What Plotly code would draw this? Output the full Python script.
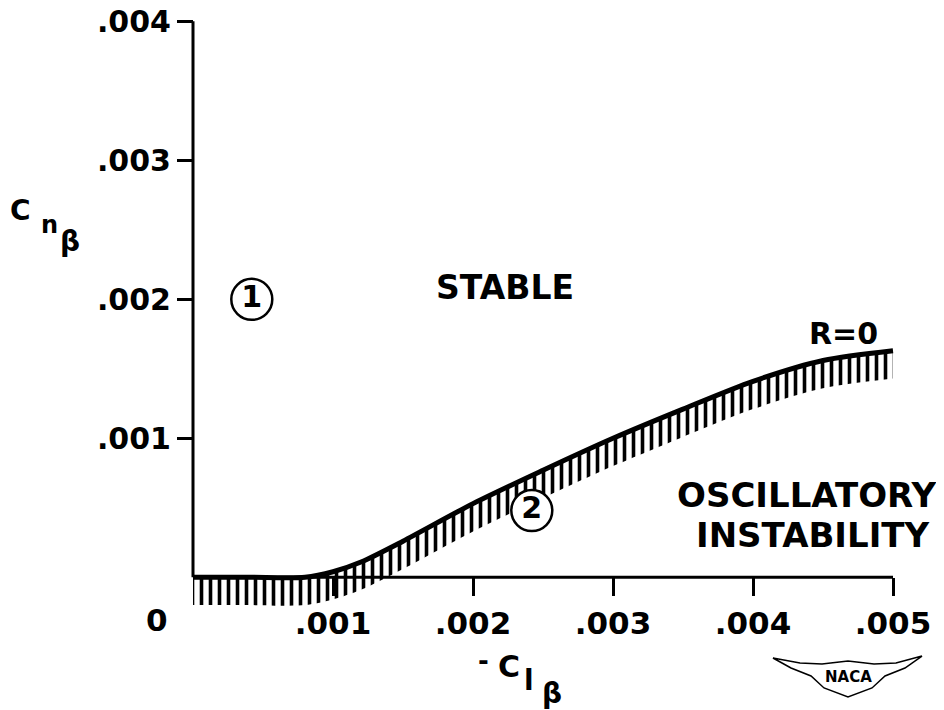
import plotly.graph_objects as go

# ---- data ----
curve_x = [0.0, 0.0004, 0.0008, 0.0010, 0.0012, 0.0015, 0.0020, 0.0025,
           0.0030, 0.0035, 0.0040, 0.0045, 0.0050]
curve_y = [0.0, 0.0, 0.0, 0.00004, 0.00011, 0.00026, 0.00053, 0.00077,
           0.00100, 0.00121, 0.00141, 0.00156, 0.00163]
region_labels = ["1", "2"]
region_x = [0.00042, 0.00242]
region_y = [0.00200, 0.00048]
x_tickvals = [0.001, 0.002, 0.003, 0.004, 0.005]
x_ticktext = [".001", ".002", ".003", ".004", ".005"]
y_tickvals = [0.001, 0.002, 0.003, 0.004]
y_ticktext = [".001", ".002", ".003", ".004"]

# ---- style / layout ----
OFF = 8                      # page offset of the figure inside the browser window
W, H = 936, 702
ML, MR, MT, MB = 171, 23, 6, 91
PW, PH = W - ML - MR, H - MT - MB
XR = [-0.0001, -0.0001 + PW / 140.0 * 0.001]
YR = [-0.0003, -0.0003 + PH / 139.0 * 0.001]
HATCH = 0.0002
FONT = "DejaVu Sans"


def px(x):
    return (x - OFF - ML) / PW


def py(y):
    return (H - MB - (y - OFF)) / PH


lower = [v - HATCH for v in curve_y]

fig = go.Figure()
fig.add_trace(go.Scatter(x=curve_x, y=lower, mode="lines",
                         line=dict(width=0, shape="spline", smoothing=0.8),
                         hoverinfo="skip", showlegend=False))
fig.add_trace(go.Scatter(x=curve_x, y=curve_y, mode="lines",
                         line=dict(color="black", width=5, shape="spline", smoothing=0.8),
                         fill="tonexty", fillcolor="rgba(0,0,0,0)",
                         fillpattern=dict(shape="|", fgcolor="black", fgopacity=1,
                                          bgcolor="rgba(0,0,0,0)",
                                          size=9, solidity=0.4),
                         showlegend=False))
fig.add_trace(go.Scatter(x=region_x, y=region_y, mode="markers+text",
                         text=region_labels, textposition="middle center",
                         textfont=dict(family=FONT, size=30, color="black", weight="bold"),
                         marker=dict(size=41, color="white",
                                     line=dict(color="black", width=2.5)),
                         showlegend=False))

# axis lines from origin to the last tick
fig.add_shape(type="line", x0=0, y0=0, x1=x_tickvals[-1], y1=0,
              line=dict(color="black", width=3), layer="above")
fig.add_shape(type="line", x0=0, y0=0, x1=0, y1=y_tickvals[-1],
              line=dict(color="black", width=3), layer="above")

xtickfont = dict(family=FONT, size=31, color="black", weight="bold")
ytickfont = dict(family=FONT, size=30, color="black", weight="bold")
fig.update_layout(
    width=W, height=H,
    margin=dict(l=ML, r=MR, t=MT, b=MB),
    paper_bgcolor="white", plot_bgcolor="white",
    font=dict(family=FONT, color="black"),
    xaxis=dict(range=XR, tickvals=x_tickvals, ticktext=x_ticktext,
               ticks="outside", ticklen=18, tickwidth=2.5, tickcolor="black",
               showline=False, showgrid=False, zeroline=False,
               anchor="free", position=(0 - YR[0]) / (YR[1] - YR[0]),
               tickfont=xtickfont, automargin=False, ticklabeloverflow="allow"),
    yaxis=dict(range=YR, tickvals=y_tickvals, ticktext=y_ticktext,
               ticks="outside", ticklen=16, tickwidth=2.5, tickcolor="black",
               showline=False, showgrid=False, zeroline=False,
               anchor="free", position=(0 - XR[0]) / (XR[1] - XR[0]),
               tickfont=ytickfont, automargin=False, ticklabeloverflow="allow"),
)


def label(text, x, y, size, bold=False, xanchor="center"):
    fig.add_annotation(text=text, x=px(x), y=py(y), xref="paper", yref="paper",
                       showarrow=False, xanchor=xanchor, yanchor="middle",
                       font=dict(family=FONT, size=size, color="black",
                                 weight="bold" if bold else "normal"))


label("0", 157, 620, 31, bold=True)
label("STABLE", 505, 287, 33, bold=True)
label("R=0", 843, 333, 30, bold=True)
label("OSCILLATORY", 938, 495, 34, bold=True, xanchor="right")
label("INSTABILITY", 932, 535, 34, bold=True, xanchor="right")

# y-axis title  C n beta
label("C", 20, 210, 28, bold=True)
label("n", 49, 225, 24, bold=True)
label("β", 70, 241, 28, bold=True)
# x-axis title  -C l beta
label("-", 483, 661, 26, bold=True)
label("C", 509, 666, 30, bold=True)
label("l", 529, 680, 28, bold=True)
label("β", 552, 693, 28, bold=True)

# NACA logo
wing = [(773, 658), (800, 663), (822, 664), (848, 661), (874, 664), (896, 663), (922, 656),
        (905, 668), (885, 676), (872, 688), (848, 697), (824, 688), (811, 676),
        (791, 668)]
path = "M " + " L ".join(f"{px(a):.4f},{py(b):.4f}" for a, b in wing) + " Z"
fig.add_shape(type="path", path=path, xref="paper", yref="paper",
              line=dict(color="black", width=1.5), fillcolor="white")
label("NACA", 848, 677, 15, bold=True)

fig.write_html("out.html")
